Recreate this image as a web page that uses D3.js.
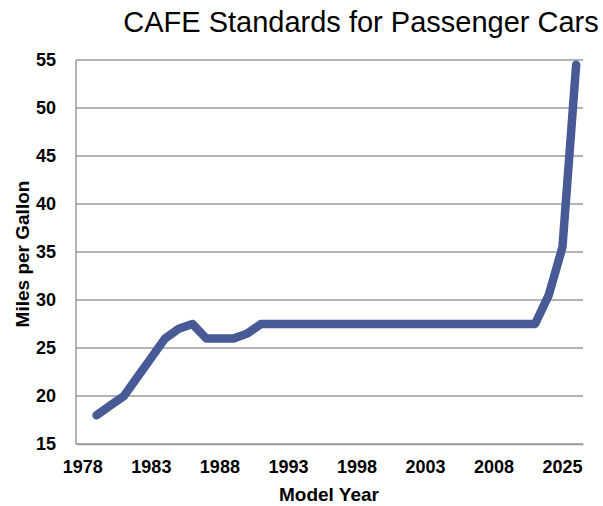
<!DOCTYPE html>
<html>
<head>
<meta charset="utf-8">
<script src="https://cdn.jsdelivr.net/npm/d3@7"></script>
<style>
  body { margin: 0; background: #fff; }
  text { font-family: "Liberation Sans", Arial, sans-serif; }
</style>
</head>
<body>
<script>
// CAFE passenger car standard, mpg, one value per plotted model year
var mpg = [18, 19, 20, 22, 24, 26, 27, 27.5, 26, 26, 26, 26.5,
  27.5, 27.5, 27.5, 27.5, 27.5, 27.5, 27.5, 27.5, 27.5, 27.5, 27.5,
  27.5, 27.5, 27.5, 27.5, 27.5, 27.5, 27.5, 27.5, 27.5, 27.5,
  30.5, 35.5, 54.5];
// x labels, one every 5 category slots
var tickLabels = ["1978", "1983", "1988", "1993", "1998", "2003", "2008", "2025"];
var yTicks = [15, 20, 25, 30, 35, 40, 45, 50, 55];

var W = 603, H = 506;
var plot = { left: 76, right: 583, top: 60, bottom: 444 };

var svg = d3.select('body').append('svg')
  .attr('width', W)
  .attr('height', H);

// the axis has one leading slot, the series starts in slot 1
var slots = d3.range(mpg.length + 1);
var x = d3.scaleBand().domain(slots).range([plot.left, plot.right]);
var y = d3.scaleLinear().domain([15, 55]).range([plot.bottom, plot.top]);

// gridlines
svg.append('g').selectAll('line')
  .data(yTicks)
  .enter().append('line')
  .attr('x1', plot.left)
  .attr('x2', plot.right)
  .attr('y1', function(d) { return y(d); })
  .attr('y2', function(d) { return y(d); })
  .attr('stroke', '#9a9a9a')
  .attr('stroke-width', 1.5);

// left axis line
svg.append('line')
  .attr('x1', plot.left).attr('x2', plot.left)
  .attr('y1', plot.top).attr('y2', plot.bottom)
  .attr('stroke', '#9a9a9a')
  .attr('stroke-width', 1.5);

var yAxis = svg.append('g')
  .attr('transform', 'translate(' + plot.left + ',0)')
  .call(d3.axisLeft(y).tickValues(yTicks).tickSize(0).tickPadding(20));
yAxis.select('.domain').remove();
yAxis.selectAll('text')
  .attr('fill', '#000')
  .style('font-size', '18px')
  .style('font-weight', 'bold');

var xAxis = svg.append('g')
  .attr('transform', 'translate(0,' + plot.bottom + ')')
  .call(d3.axisBottom(x)
    .tickValues(d3.range(0, tickLabels.length * 5, 5))
    .tickFormat(function(d) { return tickLabels[d / 5]; })
    .tickSize(0).tickPadding(16));
xAxis.select('.domain')
  .attr('stroke', '#9a9a9a')
  .attr('stroke-width', 1.5);
xAxis.selectAll('text')
  .attr('fill', '#000')
  .style('font-size', '18px')
  .style('font-weight', 'bold');

var line = d3.line()
  .x(function(d, i) { return x(i + 1) + x.bandwidth() / 2; })
  .y(function(d) { return y(d); });

svg.append('path')
  .datum(mpg)
  .attr('d', line)
  .attr('fill', 'none')
  .attr('stroke', '#475a96')
  .attr('stroke-width', 8.5)
  .attr('stroke-linejoin', 'round')
  .attr('stroke-linecap', 'round');

svg.append('text')
  .attr('x', 361)
  .attr('y', 32)
  .attr('text-anchor', 'middle')
  .style('font-size', '29px')
  .text('CAFE Standards for Passenger Cars');

svg.append('text')
  .attr('x', 329)
  .attr('y', 501)
  .attr('text-anchor', 'middle')
  .style('font-size', '19px')
  .style('font-weight', 'bold')
  .text('Model Year');

svg.append('text')
  .attr('transform', 'translate(29,254) rotate(-90)')
  .attr('text-anchor', 'middle')
  .style('font-size', '19px')
  .style('font-weight', 'bold')
  .text('Miles per Gallon');
</script>
</body>
</html>
